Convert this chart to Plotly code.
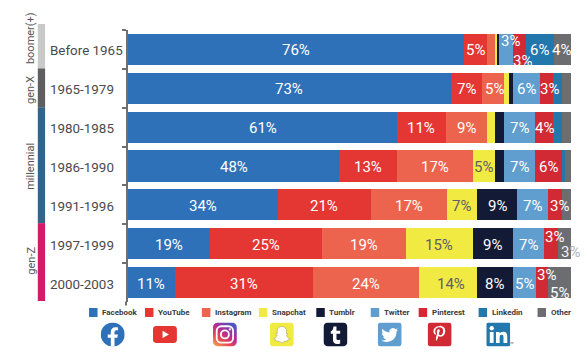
import base64
import plotly.graph_objects as go

categories = ["Before 1965", "1965-1979", "1980-1985", "1986-1990", "1991-1996", "1997-1999", "2000-2003"]
facebook = [75.8, 72.8, 60.8, 47.7, 33.8, 18.6, 10.6]
youtube = [5.2, 7.1, 10.9, 13.0, 21.0, 25.1, 31.1]
instagram = [1.8, 5.0, 9.3, 17.1, 17.1, 19.1, 24.1]
snapchat = [0.5, 1.0, 1.8, 5.0, 6.9, 15.0, 13.0]
tumblr = [0.5, 1.1, 2.1, 2.1, 9.1, 9.0, 8.0]
twitter = [3.0, 5.9, 6.9, 6.9, 7.0, 7.1, 5.2]
pinterest = [3.1, 3.1, 4.2, 6.1, 3.0, 3.1, 2.9]
linkedin = [6.2, 2.0, 1.9, 0.7, 0.0, 0.0, 0.0]
other = [3.9, 2.0, 2.1, 1.4, 2.1, 3.0, 5.1]

facebook_labels = ["76%", "73%", "61%", "48%", "34%", "19%", "11%"]
youtube_labels = ["5%", "7%", "11%", "13%", "21%", "25%", "31%"]
instagram_labels = ["", "5%", "9%", "17%", "17%", "19%", "24%"]
snapchat_labels = ["", "", "", "5%", "7%", "15%", "14%"]
tumblr_labels = ["", "", "", "", "9%", "9%", "8%"]
twitter_labels = ["3%", "6%", "7%", "7%", "7%", "7%", "5%"]
pinterest_labels = ["3%", "3%", "4%", "6%", "3%", "3%", "3%"]
linkedin_labels = ["6%", "", "", "", "", "", ""]
other_labels = ["4%", "", "", "", "", "3%", "5%"]

names = ["Facebook", "YouTube", "Instagram", "Snapchat", "Tumblr", "Twitter", "Pinterest", "Linkedin", "Other"]
colors = ["#2e71b8", "#e43633", "#ec644e", "#f0ea43", "#131a36", "#5f9ecf", "#d12a35", "#2277ac", "#6c6d70"]
series = [facebook, youtube, instagram, snapchat, tumblr, twitter, pinterest, linkedin, other]
labels = [facebook_labels, youtube_labels, instagram_labels, snapchat_labels, tumblr_labels,
          twitter_labels, pinterest_labels, linkedin_labels, other_labels]

generations = ["boomer(+)", "gen-X", "millennial", "gen-Z"]
gen_colors = ["#c9c9c9", "#5f5f62", "#33658a", "#d11c6a"]

W, H = 588, 354
L, R, T, B = 128, 571.5, 30, 302.5
FONT = "Roboto, sans-serif"


def px(x):
    return (x - L) / (R - L)


def py(y):
    return (B - y) / (B - T)


fig = go.Figure()
for name, color, values in zip(names, colors, series):
    fig.add_trace(go.Bar(y=categories, x=values, name=name, orientation="h",
                         marker=dict(color=color, line=dict(width=0)), hoverinfo="skip"))

annotations = []
shifts = {(5, 0): (4.5, -9.5), (6, 0): (3, 10.5), (6, 5): (4, -7.5), (8, 5): (6, 7),
          (6, 6): (4.5, -8.5), (8, 6): (0, 9), (8, 0): (-1, 0), (3, 6): (3, 0),
          (6, 1): (3.5, 0), (2, 1): (1.5, 0), (6, 4): (4.5, 0), (6, 2): (1, 0)}
for r, cat in enumerate(categories):
    cum = 0
    for s, values in enumerate(series):
        v = values[r]
        text = labels[s][r]
        if text:
            dx, dy = shifts.get((s, r), (0, 0))
            col = "#5e5e68" if s == 3 else "white"
            shown = text
            if (s, r) == (8, 5):
                shown = '<span style="color:#f2f2f2">3</span><span style="color:#b5b5b8">%</span>'
            annotations.append(dict(x=cum + v / 2, y=cat, xref="x", yref="y", text=shown, showarrow=False,
                                    xshift=dx, yshift=-dy - 1, font=dict(family=FONT, size=15, color=col)))
        cum += v
    annotations.append(dict(x=px(48), y=cat, xref="paper", yref="y", text=cat, showarrow=False, xanchor="left",
                            yshift=-1.5, font=dict(family=FONT, size=13.4, color="#4a4a4c")))

# generation band
shapes = []
band_edges = [24, 68.5, 107.5, 223.5, 301.5]
gen_centres = [38, 90, 167, 261]
for i, g in enumerate(generations):
    shapes.append(dict(type="rect", xref="paper", yref="paper", x0=px(37.7), x1=px(45),
                       y0=py(band_edges[i]), y1=py(band_edges[i + 1]), fillcolor=gen_colors[i], line_width=0))
    annotations.append(dict(x=px(31), y=py(gen_centres[i]), xref="paper", yref="paper", text=g, textangle=-90,
                            xanchor="center", yanchor="middle", showarrow=False,
                            font=dict(family=FONT, size=11, color="#555558")))

# axis tail and the small mark beside the last icon
shapes.append(dict(type="line", xref="paper", yref="paper", x0=px(126), x1=px(126), y0=py(302), y1=py(306),
                   line=dict(color="#6f6f70", width=2)))
shapes.append(dict(type="line", xref="paper", yref="paper", x0=px(511), x1=px(514), y0=py(343.5), y1=py(343.5),
                   line=dict(color="#777777", width=1)))

# legend row
swatch_x = [89, 145, 202, 259, 316.5, 371, 419, 479, 538]
for x, name, color in zip(swatch_x, names, colors):
    shapes.append(dict(type="rect", xref="paper", yref="paper", x0=px(x), x1=px(x + 8.5), y0=py(308.5), y1=py(317.5),
                       fillcolor=color, line_width=0))
    annotations.append(dict(x=px(x + 11), y=py(313.5), xref="paper", yref="paper", text=f"<b>{name}</b>",
                            xanchor="left", yanchor="middle", showarrow=False,
                            font=dict(family=FONT, size=8, color="#3a3a40")))


def svg(body):
    s = f'<svg xmlns="http://www.w3.org/2000/svg" viewBox="0 0 24 24" width="96" height="96">{body}</svg>'
    return "data:image/svg+xml;base64," + base64.b64encode(s.encode()).decode()


icons = [
    (112.7, svg('<circle cx="12" cy="12" r="12" fill="#2e71b8"/><path d="M16.6 15.4l.6-3.4h-3.4V9.8c0-1 .5-1.9 2-1.9h1.5V5c-.9-.1-1.8-.2-2.6-.2-2.8 0-4.6 1.7-4.6 4.7V12H7v3.4h3.1V24h3.7v-8.6z" fill="#fff"/>')),
    (165, svg('<rect x="0" y="3.5" width="24" height="17" rx="3.5" fill="#e43633"/><path d="M9.6 8.4v7.2l6.4-3.6z" fill="#fff"/>')),
    (225, svg('<defs><linearGradient id="g" x1="0" y1="1" x2="0.7" y2="0"><stop offset="0" stop-color="#f7b24d"/><stop offset="0.35" stop-color="#e8474f"/><stop offset="0.65" stop-color="#b22b96"/><stop offset="1" stop-color="#4c55c0"/></linearGradient></defs><rect width="24" height="24" rx="5" fill="url(#g)"/><rect x="3.8" y="3.8" width="16.4" height="16.4" rx="4.5" fill="none" stroke="#fff" stroke-width="1.8"/><circle cx="12" cy="12" r="4" fill="none" stroke="#fff" stroke-width="1.8"/><circle cx="17" cy="7" r="1.1" fill="#fff"/>')),
    (282, svg('<rect width="24" height="24" rx="4" fill="#f0ea43"/><path d="M12 4c2.9 0 4.6 2 4.6 4.6 0 1 0 1.8-.1 2.6.7.1 1.3-.3 1.6.2.3.6-1 1.1-1.5 1.4.4 1.5 1.7 3 3.4 3.5.4.5-1 1-2.2 1.2-.2.4-.1 1-.4 1.1-.8.1-1.7-.2-2.6.2-.9.5-1.6 1.4-2.8 1.4s-1.900-.9-2.800-1.400c-.9-.4-1.800-.1-2.600-.2-.3-.1-.2-.7-.4-1.100-1.200-.2-2.600-.7-2.200-1.200 1.700-.5 3-2 3.400-3.500-.5-.3-1.800-.8-1.500-1.400.3-.5.9-.1 1.600-.2-.1-.8-.1-1.600-.1-2.600C7.400 6 9.100 4 12 4z" fill="#fff" stroke="#555" stroke-width=".3"/>')),
    (335.7, svg('<rect width="24" height="24" rx="4.5" fill="#131a36"/><path d="M10 4h3v4.300h3.700v3H13v4.700c0 1.800 1.900 1.800 3.700 1V21c-3.900 1.300-7.200.2-7.200-3.800v-5.900H7.300V9C9 8.500 9.800 6.500 10 4z" fill="#fff"/>')),
    (390, svg('<rect width="24" height="24" rx="3.500" fill="#5f9ecf"/><path d="M20.500 7.200c-.6.3-1.300.5-2 .6.700-.4 1.300-1.100 1.500-1.900-.7.400-1.400.7-2.200.9a3.500 3.500 0 0 0-6 3.200c-2.900-.2-5.500-1.600-7.200-3.700-.9 1.600-.5 3.600 1.100 4.700-.6 0-1.100-.2-1.600-.4 0 1.700 1.200 3.100 2.800 3.500-.5.100-1 .2-1.600.1.500 1.400 1.800 2.400 3.300 2.400-1.500 1.200-3.300 1.700-5.200 1.500 5.200 3.300 15.500 1.300 15.500-9.300.7-.5 1.200-1.100 1.600-1.800z" fill="#fff"/>')),
    (440, svg('<rect width="24" height="24" rx="3.500" fill="#d12a35"/><path d="M12.300 3.500c-4.300 0-6.500 2.900-6.500 5.400 0 1.500.6 2.800 1.800 3.300.2.100.4 0 .4-.2l.2-.7c.1-.2 0-.3-.1-.5-.4-.4-.6-1-.6-1.800 0-2.200 1.700-4.100 4.300-4.100 2.400 0 3.700 1.400 3.700 3.300 0 2.500-1.100 4.600-2.800 4.600-.9 0-1.600-.8-1.400-1.700.3-1.100.8-2.300.8-3.100 0-.7-.4-1.300-1.200-1.300-.9 0-1.700 1-1.700 2.300 0 .8.300 1.400.3 1.400l-1.100 4.700c-.3 1.400 0 3.100 0 3.300 0 .1.100.1.200.1.100-.1 1.200-1.500 1.600-2.900l.6-2.400c.3.600 1.200 1.100 2.100 1.100 2.800 0 4.700-2.500 4.700-6 0-2.600-2.200-5-5.500-5z" fill="#fff"/>')),
    (498.7, svg('<rect width="24" height="24" rx="2" fill="#2277ac"/><rect x="3.500" y="9.500" width="3.800" height="11" fill="#fff"/><circle cx="5.400" cy="5.700" r="2.200" fill="#fff"/><path d="M9.700 9.500h3.600v1.600c.6-1 1.900-1.900 3.700-1.900 3.300 0 4 2.200 4 5v6.300h-3.800V15c0-1.300-.1-2.700-1.800-2.700-1.800 0-2 1.300-2 2.700v5.500H9.700z" fill="#fff"/>')),
]
images = [dict(source=src, xref="paper", yref="paper", x=px(cx - 12), y=py(323), sizex=24 / (R - L), sizey=24 / (B - T),
               xanchor="left", yanchor="top", sizing="stretch", layer="above") for cx, src in icons]

fig.update_layout(
    width=W, height=H, barmode="stack", bargap=0.2, showlegend=False,
    margin=dict(l=L, r=W - R, t=T, b=H - B, pad=0), paper_bgcolor="white", plot_bgcolor="white",
    xaxis=dict(range=[0, 100], visible=False, fixedrange=True),
    yaxis=dict(range=[len(categories) - 0.5, -0.5], type="category", showticklabels=False, ticks="outside", ticklen=4, tickwidth=2,
               tickcolor="#6f6f70", showline=True, linecolor="#6f6f70", linewidth=2, tickson="boundaries",
               showgrid=False, zeroline=False, fixedrange=True),
    annotations=annotations, shapes=shapes, images=images,
)
fig.write_html("out.html", config=dict(displayModeBar=False),
               post_script="document.body.style.margin='0';document.body.style.overflow='hidden';")
